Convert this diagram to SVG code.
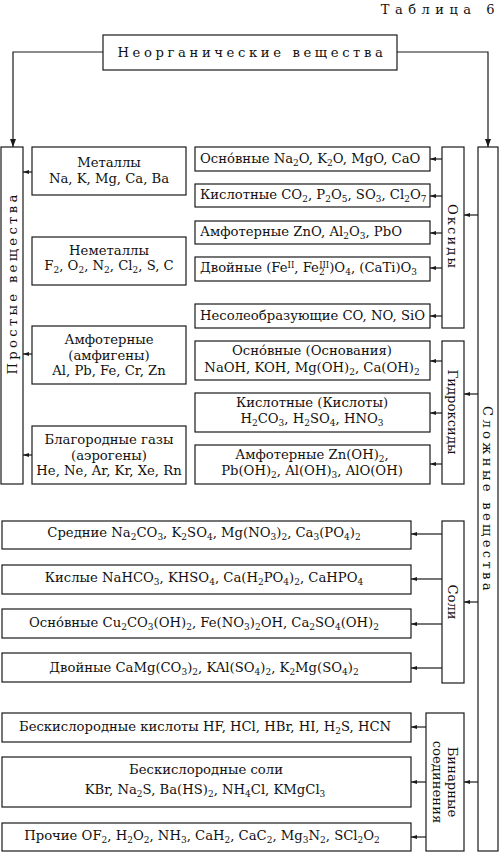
<svg xmlns="http://www.w3.org/2000/svg" width="500" height="853" viewBox="0 0 500 853">
<style>
text{font-family:"DejaVu Serif","Liberation Serif",serif;font-size:13.2px;fill:#111}
.c{text-anchor:middle}
.b{font-size:9px;baseline-shift:-3px}
.p{font-size:8.5px;baseline-shift:4.5px}
rect{fill:#fff;stroke:#1a1a1a;stroke-width:1.2}
.cn path{fill:none;stroke:#1a1a1a;stroke-width:1.2}
.cn path.s{marker-end:url(#a)}
.cn path.L{marker-end:url(#A)}
</style>
<defs>
<marker id="a" viewBox="0 0 6 4" refX="6" refY="2" markerWidth="6" markerHeight="4" orient="auto" markerUnits="userSpaceOnUse"><path d="M0,0L6,2L0,4z" fill="#1a1a1a"/></marker>
<marker id="A" viewBox="0 0 8 6" refX="8" refY="3" markerWidth="8" markerHeight="6" orient="auto" markerUnits="userSpaceOnUse"><path d="M0,0L8,3L0,6z" fill="#1a1a1a"/></marker>
</defs>
<text x="500" y="14" style="text-anchor:end;letter-spacing:5.5px;font-size:13px">Таблица 6</text>

<g class="cn" id="connectors">
<path class="L" d="M103,52H13V147"/>
<path class="L" d="M397,52H488V147"/>
<path class="s" d="M32,172H23"/>
<path class="s" d="M32,354H23"/>
<path class="s" d="M32,455H23"/>
<path class="s" d="M442,159H430"/>
<path class="s" d="M442,196H430"/>
<path class="s" d="M442,233H430"/>
<path class="s" d="M442,268H430"/>
<path class="s" d="M442,316H430"/>
<path class="s" d="M478,215H464"/>
<path class="s" d="M442,361H430"/>
<path class="s" d="M442,413H430"/>
<path class="s" d="M442,464H430"/>
<path class="s" d="M478,394H464"/>
<path class="s" d="M442,534H411"/>
<path class="s" d="M442,579H411"/>
<path class="s" d="M442,624H411"/>
<path class="s" d="M442,668H411"/>
<path class="s" d="M478,602H464"/>
<path class="s" d="M426,727H411"/>
<path class="s" d="M426,782H411"/>
<path class="s" d="M426,837H411"/>
<path class="s" d="M478,782H464"/>
</g>

<g id="root"><rect x="103" y="35" width="294" height="35"/><text class="c" x="252" y="57" style="letter-spacing:3.6px">Неорганические вещества</text></g>

<g id="prostye"><rect x="1" y="147" width="22" height="337"/><text class="c" x="12" y="283" dy="4.8" transform="rotate(-90 12 283)" style="letter-spacing:3.3px">Простые вещества</text></g>
<g id="slozhnye"><rect x="478" y="147" width="20" height="704"/><text class="c" x="488" y="500" dy="4.8" transform="rotate(90 488 500)" style="letter-spacing:3.3px">Сложные вещества</text></g>

<g id="metally"><rect x="32" y="147" width="154" height="48"/><text class="c" x="109" y="167">Металлы</text><text class="c" x="109" y="183">Na, K, Mg, Ca, Ba</text></g>
<g id="nemetally"><rect x="32" y="237" width="154" height="48"/><text class="c" x="109" y="255">Неметаллы</text><text class="c" x="109" y="270">F<tspan class="b">2</tspan>, O<tspan class="b">2</tspan>, N<tspan class="b">2</tspan>, Cl<tspan class="b">2</tspan>, S, C</text></g>
<g id="amfigeny"><rect x="32" y="326" width="154" height="58"/><text class="c" x="109" y="344">Амфотерные</text><text class="c" x="109" y="359.5">(амфигены)</text><text class="c" x="109" y="375">Al, Pb, Fe, Cr, Zn</text></g>
<g id="aerogeny"><rect x="32" y="426" width="154" height="58"/><text class="c" x="109" y="444">Благородные газы</text><text class="c" x="109" y="459.5">(аэрогены)</text><text class="c" x="109" y="475">He, Ne, Ar, Kr, Xe, Rn</text></g>

<g id="oksidy"><rect x="442" y="147" width="22" height="181"/><text class="c" x="453" y="237" dy="4.8" transform="rotate(90 453 237)" style="letter-spacing:2px">Оксиды</text></g>
<g id="ox-osn"><rect x="195" y="147" width="235" height="24"/><text x="200" y="163">Осно́вные Na<tspan class="b">2</tspan>O, K<tspan class="b">2</tspan>O, MgO, CaO</text></g>
<g id="ox-kisl"><rect x="195" y="184" width="235" height="23"/><text x="200" y="198.5">Кислотные CO<tspan class="b">2</tspan>, P<tspan class="b">2</tspan>O<tspan class="b">5</tspan>, SO<tspan class="b">3</tspan>, Cl<tspan class="b">2</tspan>O<tspan class="b">7</tspan></text></g>
<g id="ox-amf"><rect x="195" y="221" width="235" height="23"/><text x="200" y="235.5">Амфотерные ZnO, Al<tspan class="b">2</tspan>O<tspan class="b">3</tspan>, PbO</text></g>
<g id="ox-dv"><rect x="195" y="257" width="235" height="24"/><text x="200" y="272">Двойные (Fe<tspan class="p">II</tspan>, Fe<tspan class="b">2</tspan><tspan class="p" dx="-5.5">III</tspan>)O<tspan class="b">4</tspan>, (CaTi)O<tspan class="b">3</tspan></text></g>
<g id="ox-nesol"><rect x="195" y="304" width="235" height="24"/><text x="200" y="319.5">Несолеобразующие CO, NO, SiO</text></g>

<g id="gidroksidy"><rect x="442" y="341" width="22" height="143"/><text class="c" x="453" y="412" dy="4.8" transform="rotate(90 453 412)">Гидроксиды</text></g>
<g id="gd-osn"><rect x="195" y="341" width="235" height="39"/><text class="c" x="312" y="355">Осно́вные (Основания)</text><text class="c" x="312" y="371.5">NaOH, KOH, Mg(OH)<tspan class="b">2</tspan>, Ca(OH)<tspan class="b">2</tspan></text></g>
<g id="gd-kisl"><rect x="195" y="393" width="235" height="39"/><text class="c" x="312" y="407">Кислотные (Кислоты)</text><text class="c" x="312" y="422.5">H<tspan class="b">2</tspan>CO<tspan class="b">3</tspan>, H<tspan class="b">2</tspan>SO<tspan class="b">4</tspan>, HNO<tspan class="b">3</tspan></text></g>
<g id="gd-amf"><rect x="195" y="445" width="235" height="39"/><text class="c" x="312" y="459">Амфотерные Zn(OH)<tspan class="b">2</tspan>,</text><text class="c" x="312" y="475">Pb(OH)<tspan class="b">2</tspan>, Al(OH)<tspan class="b">3</tspan>, AlO(OH)</text></g>

<g id="soli"><rect x="442" y="521" width="22" height="162"/><text class="c" x="453" y="602" dy="4.8" transform="rotate(90 453 602)">Соли</text></g>
<g id="sl-sred"><rect x="2" y="521" width="409" height="28"/><text class="c" x="204" y="537">Средние Na<tspan class="b">2</tspan>CO<tspan class="b">3</tspan>, K<tspan class="b">2</tspan>SO<tspan class="b">4</tspan>, Mg(NO<tspan class="b">3</tspan>)<tspan class="b">2</tspan>, Ca<tspan class="b">3</tspan>(PO<tspan class="b">4</tspan>)<tspan class="b">2</tspan></text></g>
<g id="sl-kisl"><rect x="2" y="565" width="409" height="29"/><text class="c" x="204" y="581.5">Кислые NaHCO<tspan class="b">3</tspan>, KHSO<tspan class="b">4</tspan>, Ca(H<tspan class="b">2</tspan>PO<tspan class="b">4</tspan>)<tspan class="b">2</tspan>, CaHPO<tspan class="b">4</tspan></text></g>
<g id="sl-osn"><rect x="2" y="609" width="409" height="29"/><text class="c" x="204" y="626.5">Осно́вные Cu<tspan class="b">2</tspan>CO<tspan class="b">3</tspan>(OH)<tspan class="b">2</tspan>, Fe(NO<tspan class="b">3</tspan>)<tspan class="b">2</tspan>OH, Ca<tspan class="b">2</tspan>SO<tspan class="b">4</tspan>(OH)<tspan class="b">2</tspan></text></g>
<g id="sl-dv"><rect x="2" y="653" width="409" height="29"/><text class="c" x="204" y="671.5">Двойные CaMg(CO<tspan class="b">3</tspan>)<tspan class="b">2</tspan>, KAl(SO<tspan class="b">4</tspan>)<tspan class="b">2</tspan>, K<tspan class="b">2</tspan>Mg(SO<tspan class="b">4</tspan>)<tspan class="b">2</tspan></text></g>

<g id="binarnye"><rect x="426" y="713" width="38" height="138"/><text class="c" x="453" y="782" dy="4.8" transform="rotate(90 453 782)">Бинарные</text><text class="c" x="438" y="782" dy="4.8" transform="rotate(90 438 782)">соединения</text></g>
<g id="bn-kisl"><rect x="2" y="713" width="409" height="29"/><text class="c" x="205" y="730.5">Бескислородные кислоты HF, HCl, HBr, HI, H<tspan class="b">2</tspan>S, HCN</text></g>
<g id="bn-soli"><rect x="2" y="757" width="409" height="50"/><text class="c" x="206" y="774">Бескислородные соли</text><text class="c" x="205" y="794">KBr, Na<tspan class="b">2</tspan>S, Ba(HS)<tspan class="b">2</tspan>, NH<tspan class="b">4</tspan>Cl, KMgCl<tspan class="b">3</tspan></text></g>
<g id="bn-proch"><rect x="2" y="823" width="409" height="28"/><text class="c" x="202" y="840">Прочие OF<tspan class="b">2</tspan>, H<tspan class="b">2</tspan>O<tspan class="b">2</tspan>, NH<tspan class="b">3</tspan>, CaH<tspan class="b">2</tspan>, CaC<tspan class="b">2</tspan>, Mg<tspan class="b">3</tspan>N<tspan class="b">2</tspan>, SCl<tspan class="b">2</tspan>O<tspan class="b">2</tspan></text></g>
</svg>
